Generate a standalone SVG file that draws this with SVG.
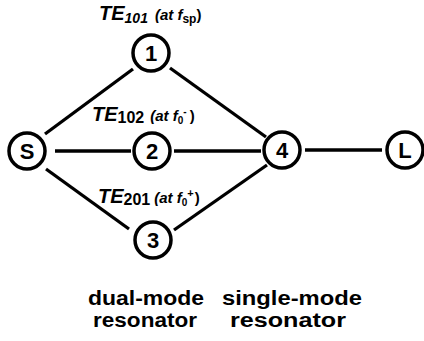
<svg xmlns="http://www.w3.org/2000/svg" width="424" height="341" viewBox="0 0 424 341">
<style>
.n circle{fill:#fff;stroke:#000;stroke-width:3.5}
.n text{font-family:"Liberation Sans",Arial,sans-serif;font-weight:bold;font-size:22px;text-anchor:middle;fill:#000}
.c line{stroke:#000;stroke-width:3.3}
.lab{font-family:"Liberation Sans",Arial,sans-serif;font-weight:bold;fill:#000}
.te{font-size:20px;font-style:italic}
.sm{font-size:15px}
.bot{font-family:"Liberation Sans",Arial,sans-serif;font-weight:bold;font-size:20px;fill:#000;text-anchor:middle}
</style>
<rect width="424" height="341" fill="#fff"/>
<g id="connectors" class="c">
<line x1="45" y1="134" x2="133" y2="69"/>
<line x1="170" y1="68" x2="266" y2="137"/>
<line x1="55" y1="151" x2="131" y2="151"/>
<line x1="174" y1="151" x2="261" y2="151"/>
<line x1="46" y1="169" x2="129" y2="229"/>
<line x1="174" y1="230" x2="267" y2="165"/>
<line x1="305" y1="150" x2="382" y2="150"/>
</g>
<g id="node-S" class="n"><circle cx="27" cy="151" r="18"/><text x="27" y="159">S</text></g>
<g id="node-1" class="n"><circle cx="151" cy="53" r="18"/><text x="151" y="61">1</text></g>
<g id="node-2" class="n"><circle cx="152" cy="151" r="18"/><text x="152" y="159">2</text></g>
<g id="node-3" class="n"><circle cx="153" cy="240" r="18"/><text x="153" y="248">3</text></g>
<g id="node-4" class="n"><circle cx="282" cy="150" r="18"/><text x="282" y="158">4</text></g>
<g id="node-L" class="n"><circle cx="405" cy="150" r="18"/><text x="405" y="158">L</text></g>
<g id="label-1">
<text class="lab" x="99" y="20"><tspan class="te">TE</tspan><tspan font-size="14px" font-style="italic" dy="3">101</tspan><tspan class="sm" font-style="italic" dy="-3" dx="7">(at f</tspan><tspan font-size="12px" dy="3">sp</tspan><tspan class="sm" dy="-3">)</tspan></text>
</g>
<g id="label-2">
<text class="lab" x="92" y="121"><tspan class="te">TE</tspan><tspan font-size="16px" dy="2">102</tspan><tspan class="sm" font-style="italic" dy="-2" dx="6">(at f</tspan><tspan font-size="10px" dy="3">0</tspan><tspan font-size="10px" dy="-9">-</tspan><tspan class="sm" dy="6" dx="3">)</tspan></text>
</g>
<g id="label-3">
<text class="lab" x="98" y="203"><tspan class="te">TE</tspan><tspan font-size="16px" dy="2">201</tspan><tspan class="sm" font-style="italic" dy="-2" dx="4">(at f</tspan><tspan font-size="10px" dy="3">0</tspan><tspan font-size="11px" dy="-9">+</tspan><tspan class="sm" dy="6" dx="1">)</tspan></text>
</g>
<g id="captions">
<text class="bot" x="146" y="305" textLength="116" lengthAdjust="spacingAndGlyphs">dual-mode</text>
<text class="bot" x="145" y="327" textLength="104" lengthAdjust="spacingAndGlyphs">resonator</text>
<text class="bot" x="292" y="305" textLength="140" lengthAdjust="spacingAndGlyphs">single-mode</text>
<text class="bot" x="288" y="327" textLength="116" lengthAdjust="spacingAndGlyphs">resonator</text>
</g>
</svg>
